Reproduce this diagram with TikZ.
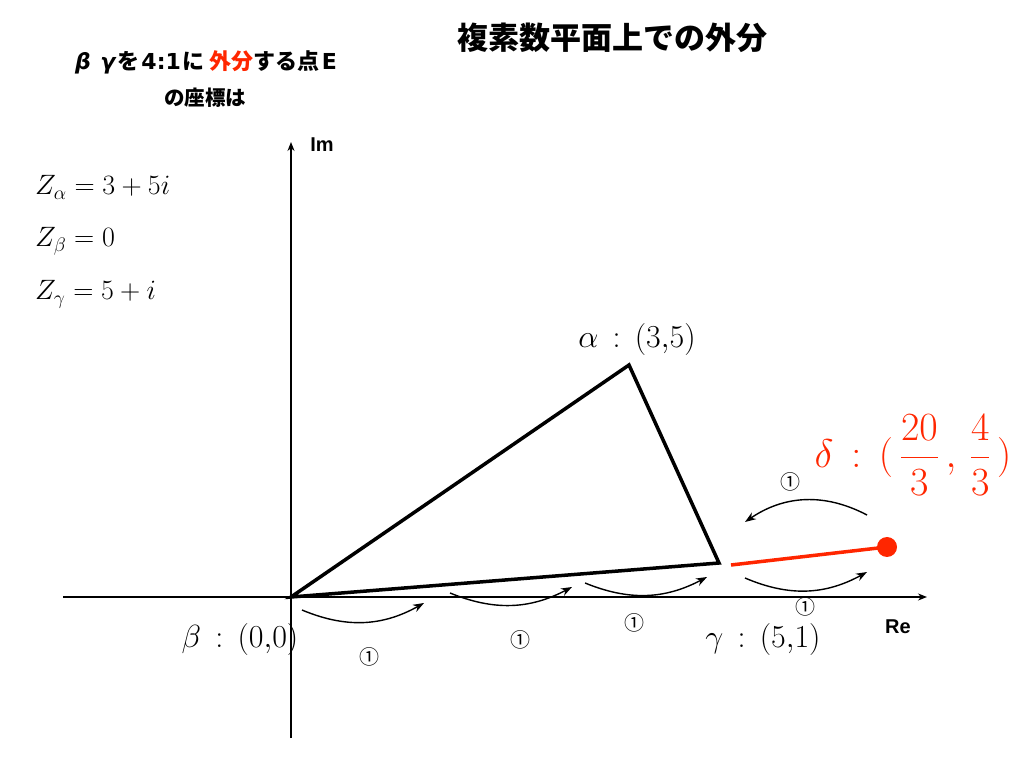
\documentclass[tikz,border=0pt]{standalone}
\usepackage{fix-cm}
\usepackage{fontspec}
\newfontfamily\jp{Noto Sans CJK JP}
\newfontfamily\dv{DejaVu Sans}
\newfontfamily\hv{Liberation Sans}
\usetikzlibrary{arrows.meta}
\definecolor{kred}{RGB}{255,38,0}
\begin{document}
\begin{tikzpicture}[x=1pt,y=1pt,
  axis/.style={line width=1.3pt,-{Stealth[length=9pt,width=7pt]}},
  tri/.style={line width=3.5pt,line join=miter},
  carrow/.style={line width=1.4pt,-{Stealth[length=11pt,width=8pt]}},
  circ/.style={inner sep=0pt,font=\fontsize{20}{20}\jp},
  ptlabel/.style={inner sep=0pt,font=\fontsize{32}{36}\selectfont},
  eqlabel/.style={inner sep=0pt,anchor=base west,font=\fontsize{28}{32}\selectfont},
  axlabel/.style={inner sep=0pt,font=\fontsize{20}{20}\hv\bfseries},
  jptext/.style={inner sep=0pt,font=\fontsize{20.5}{22}\jp\bfseries}]
\useasboundingbox (0,0) rectangle (1024,768);
% points
\coordinate (O) at (291,171);
\coordinate (A) at (629,403);
\coordinate (G) at (719,205);
\coordinate (G2) at (731,203);
\coordinate (D) at (887,221);
\coordinate (ImB) at (291,30);
\coordinate (ImT) at (291,626);
\coordinate (ReL) at (63,171);
\coordinate (ReR) at (927,171);
% axes
\draw[axis] (ImB) -- (ImT);
\draw[axis] (ReL) -- (ReR);
\node[axlabel] (im) at (322,623) {Im};
\node[axlabel] (re) at (898,141) {Re};
% triangle
\draw[tri] (O) -- (A) -- (G) -- cycle;
% red extension
\draw[kred,line width=3.5pt] (G2) -- (D);
\fill[kred] (D) circle (10);
% curved arrows
\coordinate (a1s) at (302,158); \coordinate (a1e) at (424,165);
\coordinate (a2s) at (450,175); \coordinate (a2e) at (572,181);
\coordinate (a3s) at (585,185); \coordinate (a3e) at (707,191);
\coordinate (a4s) at (745,190); \coordinate (a4e) at (867,196);
\coordinate (a5s) at (867,253); \coordinate (a5e) at (745,246);
\draw[carrow] (a1s) to[bend right=26] (a1e);
\draw[carrow] (a2s) to[bend right=25] (a2e);
\draw[carrow] (a3s) to[bend right=25] (a3e);
\draw[carrow] (a4s) to[bend right=26] (a4e);
\draw[carrow] (a5s) to[bend right=31] (a5e);
% circled ones
\node[circ] (c1) at (369,111) {①};
\node[circ] (c2) at (520,128) {①};
\node[circ] (c3) at (634,145) {①};
\node[circ] (c4) at (805,161) {①};
\node[circ] (c5) at (790,286) {①};
% point labels
\node[ptlabel] (la) at (637,428) {$\alpha\,:\,(3{,}5)$};
\node[ptlabel] (lb) at (240,128) {$\beta\,:\,(0{,}0)$};
\node[ptlabel] (lg) at (763,128) {$\gamma\,:\,(5{,}1)$};
\node[inner sep=0pt,text=kred,font=\fontsize{40}{44}\selectfont] (ld) at (913,313)
  {$\delta\,:\,(\displaystyle\,\frac{20}{3}\,,\,\frac{4}{3}\,)$};
% equations
\node[eqlabel] (e1) at (35,573) {$Z_\alpha=3+5i$};
\node[eqlabel] (e2) at (35,521) {$Z_\beta=0$};
\node[eqlabel] (e3) at (35,468) {$Z_\gamma=5+i$};
% titles
\node[inner sep=0pt,font=\fontsize{31}{34}\jp\bfseries] (title) at (612,730) {複素数平面上での外分};
\node[inner sep=0pt,font=\fontsize{22}{24}\jp\bfseries] (q1) at (206,706)
  {{\dv\bfseries\itshape β\hspace{2pt} γ}\hspace{2pt}を\hspace{2pt}{\dv\bfseries 4:1}\hspace{2pt}に\hspace{5pt}{\color{kred}外分}する点\hspace{2pt}{\dv\bfseries E}};
\node[jptext] (q2) at (205,670) {の座標は};
\end{tikzpicture}
\end{document}
